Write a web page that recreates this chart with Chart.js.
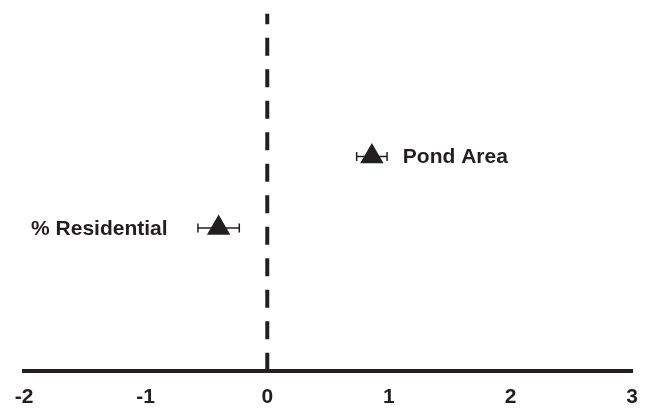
<!DOCTYPE html>
<html>
<head>
<meta charset="utf-8">
<script src="https://cdn.jsdelivr.net/npm/chart.js@4"></script>
<style>
  html, body { margin: 0; padding: 0; background: #fff; }
  #wrap { width: 652px; height: 410px; }
</style>
</head>
<body>
<div id="wrap"><canvas id="chart"></canvas></div>
<script>
// effect estimates with standard errors
const predictors = ['Pond Area', '% Residential'];
const estimates = [0.86, -0.40];
const stdErrors = [0.125, 0.17];
const rows = [3, 2];
const xTicks = [-2, -1, 0, 1, 2, 3];

const ink = '#231f20';
const font = 'bold 21px "Liberation Sans", Arial, sans-serif';

const points = estimates.map((v, i) => ({ x: v, y: rows[i] }));

// error bars and point labels, placed through the scales
const errorBars = {
  id: 'errorBars',
  afterDatasetsDraw(chart) {
    const { ctx, scales: { x, y } } = chart;
    ctx.save();
    ctx.strokeStyle = ink;
    ctx.lineWidth = 1.5;
    estimates.forEach((v, i) => {
      const py = y.getPixelForValue(rows[i]);
      const x0 = x.getPixelForValue(v - stdErrors[i]);
      const x1 = x.getPixelForValue(v + stdErrors[i]);
      ctx.beginPath();
      ctx.moveTo(x0, py); ctx.lineTo(x1, py);
      ctx.moveTo(x0, py - 4.5); ctx.lineTo(x0, py + 4.5);
      ctx.moveTo(x1, py - 4.5); ctx.lineTo(x1, py + 4.5);
      ctx.stroke();
    });
    ctx.fillStyle = ink;
    ctx.font = font;
    ctx.textBaseline = 'middle';
    estimates.forEach((v, i) => {
      const py = y.getPixelForValue(rows[i]) + 1;
      const px = x.getPixelForValue(v);
      if (v >= 0) {
        ctx.textAlign = 'left';
        ctx.fillText(predictors[i], px + 31, py);
      } else {
        ctx.textAlign = 'right';
        ctx.fillText(predictors[i], px - 51, py);
      }
    });
    ctx.restore();
  }
};

new Chart(document.getElementById('chart'), {
  type: 'scatter',
  data: {
    datasets: [
      {
        label: 'zero',
        type: 'line',
        data: [{ x: 0, y: 0 }, { x: 0, y: 5 }],
        borderColor: ink,
        borderWidth: 4,
        borderDash: [18, 13.5],
        pointRadius: 0
      },
      {
        label: 'estimates',
        data: points,
        pointStyle: 'triangle',
        pointRadius: 13.5,
        pointHoverRadius: 13.5,
        backgroundColor: ink,
        borderColor: ink,
        borderWidth: 0
      }
    ]
  },
  options: {
    responsive: true,
    maintainAspectRatio: false,
    animation: false,
    layout: { padding: { left: 24, right: 19, top: 12, bottom: -14 } },
    plugins: { legend: { display: false }, tooltip: { enabled: false } },
    scales: {
      x: {
        type: 'linear',
        min: xTicks[0],
        max: xTicks[xTicks.length - 1],
        afterBuildTicks(scale) { scale.ticks = xTicks.map(v => ({ value: v })); },
        grid: { display: false, drawTicks: false },
        border: { display: true, color: ink, width: 4 },
        ticks: {
          color: ink,
          padding: 14,
          font: { family: '"Liberation Sans", Arial, sans-serif', size: 21, weight: 'bold' }
        }
      },
      y: {
        display: false,
        min: 0,
        max: 5
      }
    }
  },
  plugins: [errorBars]
});
</script>
</body>
</html>
